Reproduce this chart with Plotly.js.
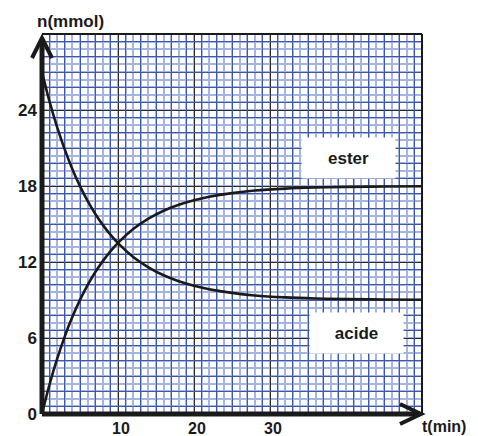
<!DOCTYPE html>
<html><head><meta charset="utf-8">
<script src="https://cdn.plot.ly/plotly-3.0.1.min.js"></script>
<style>html,body{margin:0;padding:0;background:#fff}#c{width:478px;height:436px}</style>
</head><body><div id="c"></div>
<script>
const tEster = [0,1,2,3,4,5,6,7,8,9,10,12,14,16,18,20,22,25,28,32,36,40,45,50];
const nEster = [0,2.35,4.37,6.13,7.67,9.01,10.18,11.19,12.07,12.84,13.51,14.6,15.42,16.05,16.52,16.88,17.15,17.44,17.64,17.79,17.88,17.93,17.96,17.98];
const tAcide = [0,1,2,3,4,5,6,7,8,9,10,12,14,16,18,20,22,25,28,32,36,40,45,50];
const nAcide = [27,24.65,22.63,20.87,19.33,17.99,16.82,15.81,14.93,14.16,13.49,12.4,11.58,10.95,10.48,10.12,9.85,9.56,9.36,9.21,9.12,9.07,9.04,9.02];
const xTicks = [10,20,30];
const yTicks = [0,6,12,18,24];
const labels = {ester:"ester", acide:"acide", xTitle:"t(min)", yTitle:"n(mmol)"};

const F = "Liberation Sans, Arial, sans-serif";
const W = 380; // plot px
const px = v => v / W;
const bold = s => ({family:F, size:s, color:'#1a1a1a', weight:'bold'});

const traces = [
  {x:tEster, y:nEster, mode:'lines', line:{color:'#1a1a1a', width:2.6, shape:'spline'}, hoverinfo:'skip', showlegend:false},
  {x:tAcide, y:nAcide, mode:'lines', line:{color:'#1a1a1a', width:2.6, shape:'spline'}, hoverinfo:'skip', showlegend:false},
  {x:[], y:[], xaxis:'x2', yaxis:'y2', showlegend:false}
];

const layout = {
  width:478, height:436,
  margin:{l:42, r:56, t:34, b:22},
  paper_bgcolor:'#fff', plot_bgcolor:'#fff',
  showlegend:false,
  xaxis:{range:[0,50], tickvals:xTicks, ticktext:xTicks.map(String), showgrid:true, gridcolor:'#2b2b2b', gridwidth:1,
    tickmode:'array', zeroline:false, showline:false, ticks:'', ticklabelstandoff:3, ticklabelshift:3,
    tickfont:bold(16),
    minor:{dtick:1, tick0:0, showgrid:true, gridcolor:'#a6b4e0', gridwidth:2}},
  yaxis:{range:[0,30], tickvals:yTicks, ticktext:yTicks.map(String), tickmode:'array', showgrid:true, gridcolor:'#2b2b2b', gridwidth:1,
    zeroline:false, showline:false, ticks:'', ticklabelstandoff:4,
    tickfont:bold(17),
    minor:{dtick:0.6, tick0:0, showgrid:true, gridcolor:'#a6b4e0', gridwidth:2}},
  xaxis2:{range:[0,50], overlaying:'x', anchor:'y2', dtick:2, tick0:1, showgrid:true, gridcolor:'#3d58aa', gridwidth:1,
    showticklabels:false, ticks:'', zeroline:false, showline:false},
  yaxis2:{range:[0,30], overlaying:'y', anchor:'x2', dtick:1.2, tick0:0.6, showgrid:true, gridcolor:'#3d58aa', gridwidth:1,
    showticklabels:false, ticks:'', zeroline:false, showline:false},
  shapes:[
    {type:'line', xref:'paper', yref:'paper', x0:0, x1:1, y0:1, y1:1, line:{color:'#1a1a1a', width:2}},
    {type:'line', xref:'paper', yref:'paper', x0:1, x1:1, y0:0, y1:1, line:{color:'#1a1a1a', width:2}},
    {type:'line', xref:'paper', yref:'paper', x0:0, x1:px(378), y0:0, y1:0, line:{color:'#1a1a1a', width:5}},
    {type:'line', xref:'paper', yref:'paper', x0:0, x1:0, y0:0, y1:px(374), line:{color:'#1a1a1a', width:5}},
    {type:'path', xref:'paper', yref:'paper', path:`M${px(-10)},${px(356)} L0,${px(376)} L${px(10)},${px(356)}`, line:{color:'#1a1a1a', width:4}},
    {type:'path', xref:'paper', yref:'paper', path:`M${px(358)},${px(10)} L${px(379)},0 L${px(358)},${px(-10)}`, line:{color:'#1a1a1a', width:4}}
  ],
  annotations:[
    {x:40.3, y:20.2, xref:'x', yref:'y', text:labels.ester, showarrow:false, bgcolor:'#fff', width:91, height:38,
      font:bold(17)},
    {x:41.4, y:6.4, xref:'x', yref:'y', text:labels.acide, showarrow:false, bgcolor:'#fff', width:91, height:38,
      font:bold(17)},
    {x:px(28), y:px(393), xref:'paper', yref:'paper', text:labels.yTitle, showarrow:false, xanchor:'center', yanchor:'middle',
      font:bold(17)},
    {x:px(378), y:px(-12), xref:'paper', yref:'paper', text:labels.xTitle, showarrow:false, xanchor:'left', yanchor:'middle',
      font:bold(16)}
  ]
};
Plotly.newPlot('c', traces, layout, {staticPlot:true, displayModeBar:false});
</script></body></html>
